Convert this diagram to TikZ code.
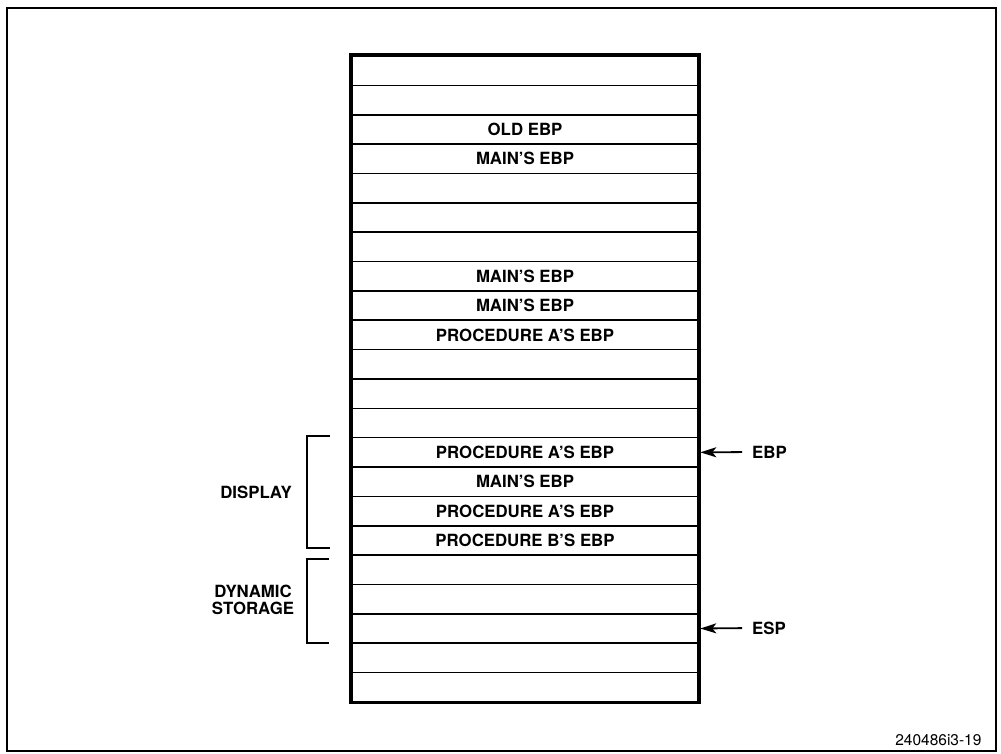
\documentclass[tikz,border=0pt]{standalone}
\usepackage{fontspec}
\setmainfont{TeX Gyre Heros}
\usetikzlibrary{arrows.meta}

\begin{document}
\begin{tikzpicture}[x=1pt,y=-1pt,>={Stealth[length=16pt,width=10pt,inset=4pt]},
  cell/.style={draw,line width=1.6pt,minimum width=346pt,minimum height=29.36pt,inner sep=0pt,
    font=\bfseries\fontsize{16.8}{18}\selectfont},
  lbl/.style={font=\bfseries\fontsize{16.8}{17}\selectfont,align=center,inner sep=0pt},
  brace/.style={line width=1.8pt}]
\useasboundingbox (0,0) rectangle (1001,753);
\draw[line width=2.5pt] (7,8) rectangle (996,751);
% stack cells
\foreach \i/\t in {1/,2/,3/OLD EBP,4/MAIN'S EBP,5/,6/,7/,8/MAIN'S EBP,9/MAIN'S EBP,
  10/PROCEDURE A'S EBP,11/,12/,13/,14/PROCEDURE A'S EBP,15/MAIN'S EBP,
  16/PROCEDURE A'S EBP,17/PROCEDURE B'S EBP,18/,19/,20/,21/,22/}
  \node[cell] (r\i) at (525,{56+(\i-0.5)*29.36}) {\t};
\draw[line width=3.5pt] (r1.north west) rectangle (r22.south east);
% brackets
\draw[brace] (330,436) -- (307,436) -- (307,548) -- (330,548);
\draw[brace] (329,559) -- (307,559) -- (307,643) -- (329,643);
\node[lbl,anchor=east] (disp) at (292,492) {DISPLAY};
\node[lbl] (dyn) at (253,600) {DYNAMIC\\STORAGE};
% pointers
\node[lbl,anchor=west] (ebp) at (752,452) {EBP};
\node[lbl,anchor=west] (esp) at (752,628) {ESP};
\draw[->,line width=1.8pt,shorten <=10pt,shorten >=1.5pt] (ebp.west) -- (r14.east);
\draw[->,line width=1.8pt,shorten <=10pt,shorten >=1.5pt] (esp.west) -- (r20.east);
\node[anchor=east,font=\fontsize{15.5}{17}\selectfont] (fig) at (985,740) {240486i3-19};
\end{tikzpicture}
\end{document}
